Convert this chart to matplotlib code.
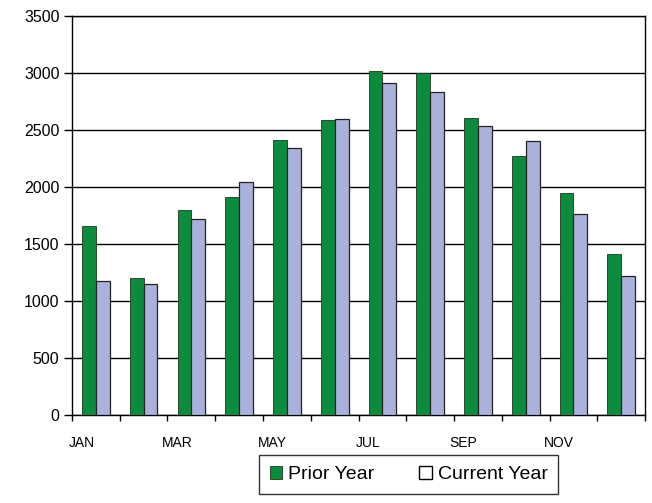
import matplotlib
matplotlib.use("Agg")
import matplotlib.pyplot as plt
from matplotlib.patches import Patch
import numpy as np

plt.rcParams['font.family'] = ['Liberation Sans', 'DejaVu Sans']

months = ["JAN", "FEB", "MAR", "APR", "MAY", "JUN", "JUL", "AUG", "SEP", "OCT", "NOV", "DEC"]
prior_year = [1660, 1200, 1800, 1910, 2410, 2590, 3020, 3000, 2610, 2270, 1950, 1410]
current_year = [1175, 1150, 1720, 2040, 2340, 2600, 2910, 2830, 2540, 2400, 1760, 1220]
shown_labels = ["JAN", "MAR", "MAY", "JUL", "SEP", "NOV"]

green = "#0b8c3c"
lavender = "#aab2dc"

fig = plt.figure(figsize=(6.52, 5.03), dpi=100)
ax = fig.add_axes([0.1104, 0.175, 0.879, 0.793])

x = np.arange(len(months))
w = 0.29
ax.bar(x - w / 2, prior_year, width=w, color=green, edgecolor="#1a3a1a", linewidth=0.6, zorder=3)
ax.bar(x + w / 2, current_year, width=w, color=lavender, edgecolor="#222222", linewidth=0.9, zorder=3)

ax.set_xlim(-0.5, len(months) - 0.5)
ax.set_ylim(0, 3500)
ax.set_yticks(np.arange(0, 3501, 500))
ax.yaxis.grid(True, color="black", linewidth=1.0, zorder=0)
ax.set_axisbelow(True)

# minor ticks at group boundaries
ax.set_xticks(np.arange(-0.5, len(months), 1.0), minor=True)
ax.tick_params(axis="x", which="minor", length=4, width=1, direction="out")
label_pos = [months.index(m) - 0.3 for m in shown_labels]
ax.set_xticks(label_pos)
ax.set_xticklabels(shown_labels, fontsize=10)
ax.tick_params(axis="x", which="major", length=0, pad=15)
ax.tick_params(axis="y", labelsize=11.5, length=6, width=1, direction="out", pad=3)

for s in ax.spines.values():
    s.set_color("black")
    s.set_linewidth(1.0)

handles = [
    Patch(facecolor=green, edgecolor="#1a3a1a", linewidth=0.6, label="Prior Year"),
    Patch(facecolor="white", edgecolor="black", linewidth=1.0, label="Current Year"),
]
leg = fig.legend(handles=handles, loc="center", bbox_to_anchor=(0.627, 0.057), ncol=2,
                 fontsize=14, frameon=True, fancybox=False, edgecolor="black",
                 handlelength=0.65, handleheight=0.65, handletextpad=0.3, columnspacing=2.3,
                 borderpad=0.55, borderaxespad=0)
leg.get_frame().set_linewidth(1.0)

fig.savefig("out.png", dpi=100)
